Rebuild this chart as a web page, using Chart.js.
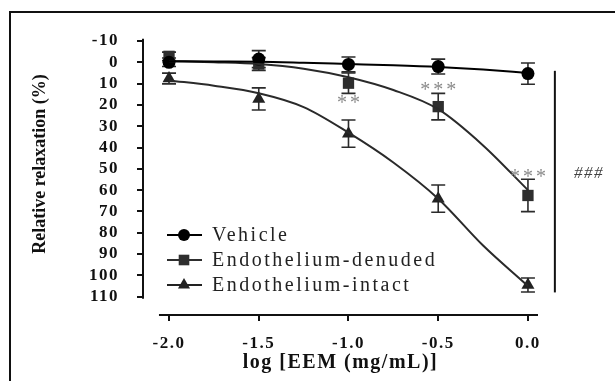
<!DOCTYPE html>
<html>
<head>
<meta charset="utf-8">
<script src="https://cdn.jsdelivr.net/npm/chart.js@4.4.1/dist/chart.umd.min.js"></script>
<style>
  html, body { margin: 0; padding: 0; background: #fff; }
  #wrap { position: relative; width: 615px; height: 381px; overflow: hidden; }
  #frame { position: absolute; left: 9px; top: 11px; width: 640px; height: 400px; border: 2px solid #111; }
  canvas { position: absolute; left: 0; top: 0; }
</style>
</head>
<body>
<div id="wrap">
  <div id="frame"></div>
  <canvas id="doseChart" width="615" height="381"></canvas>
</div>
<script>
const doses = [-2.0, -1.5, -1.0, -0.5, 0.0];
const vehicleMean = [0, -1.5, 1, 2, 5.3];
const vehicleSem = [2, 4, 3.5, 3.5, 5];
const denudedMean = [-2.8, 0.8, 9.8, 20.8, 62.5];
const denudedSem = [2, 3, 4.8, 6.2, 7.6];
const intactMean = [7.6, 17.2, 33.5, 64, 104.5];
const intactSem = [2.5, 5.2, 6.4, 6.4, 3.3];

// fitted curves
const fitDoses = [-2.0, -1.75, -1.5, -1.25, -1.0, -0.75, -0.5, -0.25, 0.0];
const vehicleFit = [-0.5, -0.4, -0.3, 0.2, 0.8, 1.4, 2.2, 3.4, 5];
const denudedFit = [-0.5, 0, 0.8, 3, 7, 13, 22, 39, 60];
const intactFit = [8.5, 11, 14.5, 21, 33, 47, 64, 86, 105];

const seriesNames = ['Vehicle', 'Endothelium-denuded', 'Endothelium-intact'];
const xTicks = [-2.0, -1.5, -1.0, -0.5, 0.0];
const yTicks = [-10, 0, 10, 20, 30, 40, 50, 60, 70, 80, 90, 100, 110];

const sigLabels = ['**', '***', '***'];
const sigDoses = [-1.0, -0.5, 0.0];
const sigLevels = [17, 11, 52];

const serif = '"Liberation Serif", "Times New Roman", serif';
const markers = [
  { style: 'circle', radius: 6.5, color: '#000' },
  { style: 'rect', radius: 8, color: '#2e2e2e' },
  { style: 'triangle', radius: 7.5, color: '#222' }
];

function toPoints(xs, ys) {
  return xs.map((x, i) => ({ x: x, y: ys[i] }));
}

const means = [vehicleMean, denudedMean, intactMean];
const sems = [vehicleSem, denudedSem, intactSem];
const fits = [vehicleFit, denudedFit, intactFit];

const datasets = [];
fits.forEach((fit, i) => {
  datasets.push({
    label: seriesNames[i] + ' fit',
    data: toPoints(fitDoses, fit),
    borderColor: i === 0 ? '#000' : '#2a2a2a',
    borderWidth: 2,
    pointRadius: 0,
    cubicInterpolationMode: 'monotone',
    fill: false
  });
});
means.forEach((m, i) => {
  datasets.push({
    label: seriesNames[i],
    data: toPoints(doses, m),
    showLine: false,
    pointStyle: markers[i].style,
    pointRadius: markers[i].radius,
    pointBackgroundColor: markers[i].color,
    pointBorderColor: markers[i].color,
    pointBorderWidth: 0
  });
});

const textSpacing = {
  id: 'textSpacing',
  beforeDraw(chart) { chart.ctx.letterSpacing = '1.5px'; },
  afterDraw(chart) { chart.ctx.letterSpacing = '0px'; }
};

const axisLines = {
  id: 'axisLines',
  afterDraw(chart) {
    const { ctx, chartArea } = chart;
    const xs = chart.scales.x, ys = chart.scales.y;
    ctx.save();
    ctx.strokeStyle = '#111';
    ctx.lineWidth = 2;
    ctx.beginPath();
    ctx.moveTo(chartArea.left, ys.getPixelForValue(-11));
    ctx.lineTo(chartArea.left, ys.getPixelForValue(111));
    ctx.moveTo(xs.getPixelForValue(-2.056), chartArea.bottom);
    ctx.lineTo(xs.getPixelForValue(0.056), chartArea.bottom);
    ctx.stroke();
    ctx.restore();
  }
};

const errorBars = {
  id: 'errorBars',
  beforeDatasetsDraw(chart) {
    const ctx = chart.ctx;
    const xs = chart.scales.x, ys = chart.scales.y;
    ctx.save();
    ctx.strokeStyle = '#2b2b2b';
    ctx.lineWidth = 1.6;
    means.forEach((m, s) => {
      doses.forEach((d, i) => {
        const x = xs.getPixelForValue(d);
        const y0 = ys.getPixelForValue(m[i] - sems[s][i]);
        const y1 = ys.getPixelForValue(m[i] + sems[s][i]);
        ctx.beginPath();
        ctx.moveTo(x, y0); ctx.lineTo(x, y1);
        ctx.moveTo(x - 7, y0); ctx.lineTo(x + 7, y0);
        ctx.moveTo(x - 7, y1); ctx.lineTo(x + 7, y1);
        ctx.stroke();
      });
    });
    ctx.restore();
  }
};

const extras = {
  id: 'extras',
  afterDraw(chart) {
    const { ctx, chartArea } = chart;
    const xs = chart.scales.x, ys = chart.scales.y;
    ctx.save();

    // y axis title
    ctx.letterSpacing = '0px';
    ctx.fillStyle = '#111';
    ctx.font = 'bold 18px ' + serif;
    ctx.textAlign = 'center';
    ctx.textBaseline = 'middle';
    ctx.save();
    ctx.translate(40, 164);
    ctx.rotate(-Math.PI / 2);
    ctx.fillText('Relative relaxation (%)', 0, 0);
    ctx.restore();

    // significance marks
    ctx.fillStyle = '#8a8a8a';
    ctx.font = '20px ' + serif;
    ctx.letterSpacing = '3px';
    sigLabels.forEach((t, i) => {
      ctx.fillText(t, xs.getPixelForValue(sigDoses[i]) + 1.5, ys.getPixelForValue(sigLevels[i]) + 5);
    });

    // bracket and ###
    ctx.strokeStyle = '#111';
    ctx.lineWidth = 2;
    const bx = xs.getPixelForValue(0.15);
    ctx.beginPath();
    ctx.moveTo(bx, ys.getPixelForValue(4));
    ctx.lineTo(bx, ys.getPixelForValue(108));
    ctx.stroke();
    ctx.fillStyle = '#444';
    ctx.font = 'italic 17px ' + serif;
    ctx.letterSpacing = '1.5px';
    ctx.fillText('###', xs.getPixelForValue(0.34), ys.getPixelForValue(52));

    // legend
    ctx.font = '20px ' + serif;
    ctx.letterSpacing = '2.5px';
    ctx.textAlign = 'left';
    seriesNames.forEach((name, i) => {
      const y = chartArea.top + 194 + i * 25;
      const x0 = chartArea.left + 24;
      ctx.strokeStyle = markers[i].color;
      ctx.lineWidth = 2;
      ctx.beginPath();
      ctx.moveTo(x0, y);
      ctx.lineTo(x0 + 35, y);
      ctx.stroke();
      ctx.fillStyle = markers[i].color;
      Chart.helpers.drawPoint(ctx, { pointStyle: markers[i].style, radius: markers[i].radius - 0.5, rotation: 0, borderWidth: 0 }, x0 + 17, y);
      ctx.fillStyle = '#222';
      ctx.fillText(name, x0 + 45, y + 1);
    });
    ctx.restore();
  }
};

const ctx = document.getElementById('doseChart').getContext('2d');

new Chart(ctx, {
  type: 'line',
  data: { datasets: datasets },
  plugins: [textSpacing, errorBars, axisLines, extras],
  options: {
    responsive: false,
    animation: false,
    devicePixelRatio: 1,
    layout: { padding: { top: 41, right: 77, bottom: 0, left: 0 } },
    plugins: {
      legend: { display: false },
      tooltip: { enabled: false }
    },
    scales: {
      x: {
        type: 'linear',
        min: -2.145,
        max: 0.056,
        afterBuildTicks: scale => { scale.ticks = xTicks.map(v => ({ value: v })); },
        afterFit: scale => { scale.height = 66; },
        border: { display: false },
        grid: { drawOnChartArea: false, drawTicks: true, tickLength: 6, color: '#111', lineWidth: 2 },
        ticks: {
          color: '#111',
          padding: 12,
          maxRotation: 0,
          autoSkip: false,
          font: { family: serif, size: 17, weight: 'bold' },
          callback: value => value.toFixed(1)
        },
        title: {
          display: true,
          text: 'log [EEM (mg/mL)]',
          color: '#111',
          padding: { top: 0, bottom: 6 },
          font: { family: serif, size: 20, weight: 'bold' }
        }
      },
      y: {
        type: 'linear',
        reverse: true,
        min: -10,
        max: 118.6,
        afterBuildTicks: scale => { scale.ticks = yTicks.map(v => ({ value: v })); },
        afterFit: scale => { scale.width = 143; },
        border: { display: false },
        grid: { drawOnChartArea: false, drawTicks: true, tickLength: 6, color: '#111', lineWidth: 2 },
        ticks: {
          color: '#111',
          padding: 18,
          autoSkip: false,
          font: { family: serif, size: 17, weight: 'bold' }
        }
      }
    }
  }
});
</script>
</body>
</html>
